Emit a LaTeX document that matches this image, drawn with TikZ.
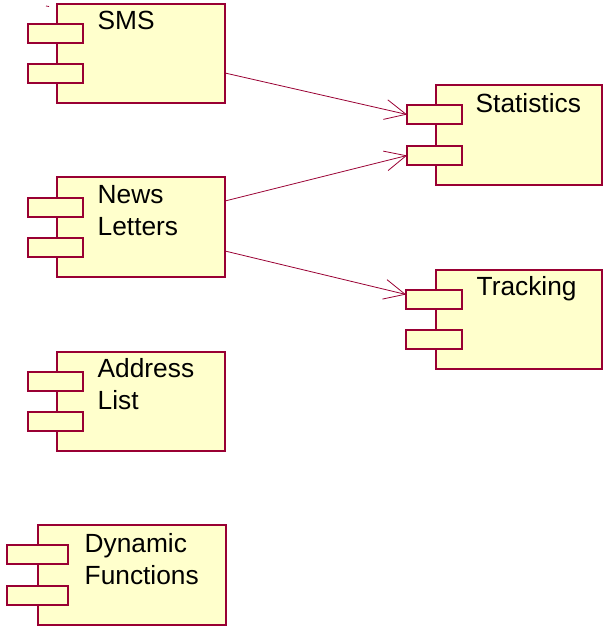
\documentclass[tikz,border=0pt]{standalone}
\usepackage{fontspec}
\setmainfont{Liberation Sans}
\usetikzlibrary{arrows.meta}
\definecolor{maroon}{RGB}{153,0,51}
\definecolor{cream}{RGB}{255,255,204}
\begin{document}
\begin{tikzpicture}[x=1pt,y=-1pt,
  comp/.style={draw=maroon, fill=cream, line width=1.5pt, inner sep=0pt, outer sep=0pt,
    anchor=north west, minimum width=168pt, minimum height=99pt},
  port/.style={draw=maroon, fill=cream, line width=1.5pt, inner sep=0pt, outer sep=0pt,
    anchor=north west, minimum width=55pt, minimum height=19pt},
  lbl/.style={anchor=base west, inner sep=0pt, font=\fontsize{26.3}{32}\selectfont},
  arr/.style={draw=maroon, line width=0.8pt, -{Straight Barb[length=21pt,width=20pt,line width=0.8pt]}}]
\useasboundingbox (0,0) rectangle (603,626);
% SMS
\node[comp] (sms) at (57,4) {};
\node[port] (smsp1) at (28,24) {};
\node[port] (smsp2) at (28,64) {};
\node[lbl] (smst) at (97.5,30) {SMS};
% News Letters
\node[comp, minimum height=100pt] (news) at (57,177) {};
\node[port] (newsp1) at (28,198) {};
\node[port] (newsp2) at (28,238) {};
\node[lbl] (newst) at (97.5,203) {\begin{tabular}[t]{@{}l@{}}News\\Letters\end{tabular}};
% Address List
\node[comp] (addr) at (57,352) {};
\node[port] (addrp1) at (28,372) {};
\node[port] (addrp2) at (28,412) {};
\node[lbl] (addrt) at (97.5,377) {\begin{tabular}[t]{@{}l@{}}Address\\List\end{tabular}};
% Dynamic Functions
\node[comp, minimum width=188pt, minimum height=100pt] (dyn) at (38,525) {};
\node[port, minimum width=61pt] (dynp1) at (7,545) {};
\node[port, minimum width=61pt] (dynp2) at (7,586) {};
\node[lbl] (dynt) at (84.5,552) {\begin{tabular}[t]{@{}l@{}}Dynamic\\Functions\end{tabular}};
% Statistics
\node[comp, minimum width=166pt, minimum height=100pt] (stat) at (436,85) {};
\node[port] (statp1) at (407,105) {};
\node[port] (statp2) at (407,146) {};
\node[lbl] (statt) at (475.5,112) {Statistics};
% Tracking
\node[comp, minimum width=166pt] (track) at (436,270) {};
\node[port, minimum width=56pt] (trackp1) at (406,290) {};
\node[port, minimum width=56pt] (trackp2) at (406,330) {};
\node[lbl] (trackt) at (476.5,295) {Tracking};
% stray mark
\coordinate (m1) at (46,6);
\coordinate (m2) at (49,6.5);
\draw[maroon, line width=0.8pt] (m1) -- (m2);
% connectors
\draw[arr] ([yshift=-19.5pt]sms.east) -- (statp1.west);
\draw[arr] ([yshift=26pt]news.east) -- (statp2.west);
\draw[arr] ([yshift=-24pt]news.east) -- ([yshift=5pt]trackp1.west);
\end{tikzpicture}
\end{document}
